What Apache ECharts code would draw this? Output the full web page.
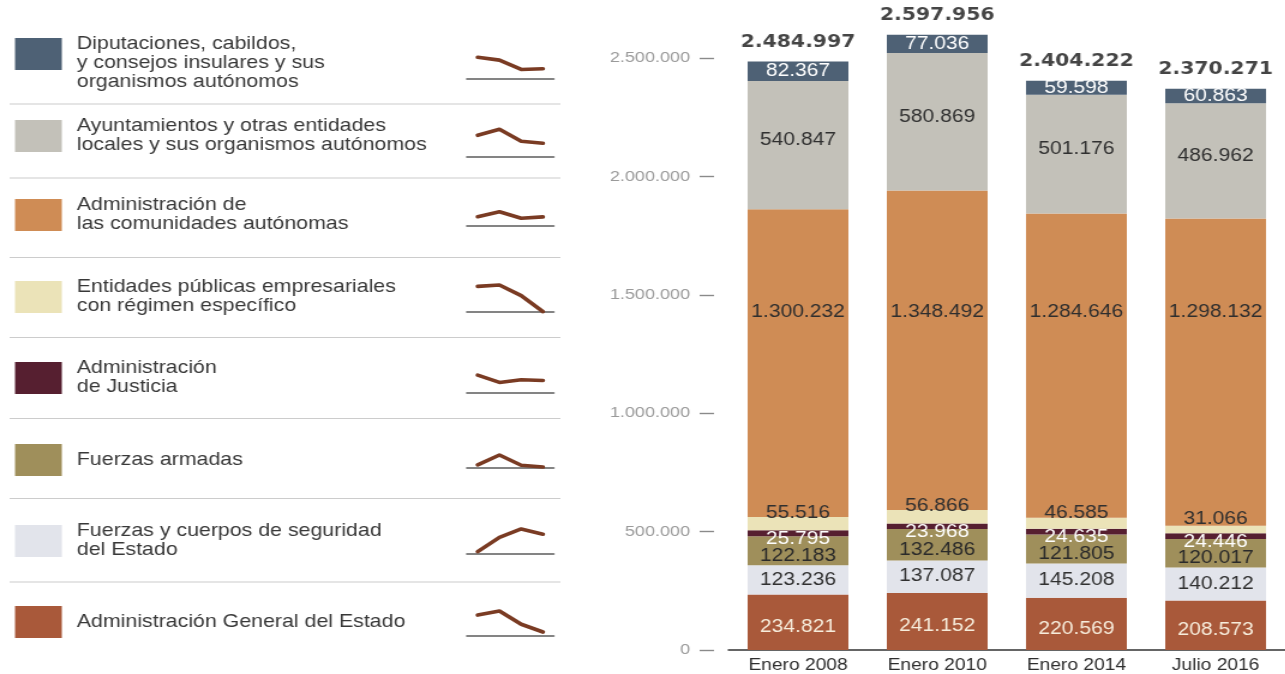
<!DOCTYPE html>
<html lang="es">
<head>
<meta charset="utf-8">
<title>Empleados públicos por administración</title>
<script src="https://cdn.jsdelivr.net/npm/echarts@6.0.0/dist/echarts.min.js"></script>
<style>
  html, body { margin: 0; padding: 0; background: #fff; overflow: hidden; }
  /* the layout is drawn on a narrower canvas and widened horizontally */
  #chart { width: 1071px; height: 674px; transform: scaleX(1.2); transform-origin: 0 0; }
</style>
</head>
<body>
<div id="chart"></div>
<script>
// ---- data -------------------------------------------------------------
const categories = ['Enero 2008', 'Enero 2010', 'Enero 2014', 'Julio 2016'];

const diputaciones          = [82367, 77036, 59598, 60863];
const ayuntamientos         = [540847, 580869, 501176, 486962];
const comunidades           = [1300232, 1348492, 1284646, 1298132];
const entidades             = [55516, 56866, 46585, 31066];
const justicia              = [25795, 23968, 24635, 24446];
const fuerzasArmadas        = [122183, 132486, 121805, 120017];
const seguridad             = [123236, 137087, 145208, 140212];
const administracionGeneral = [234821, 241152, 220569, 208573];

const yTickValues = [0, 500000, 1000000, 1500000, 2000000, 2500000];

// ---- helpers ----------------------------------------------------------
const FONT = '"Liberation Sans", Arial, Helvetica, sans-serif';
const fmt = v => String(v).replace(/\B(?=(\d{3})+(?!\d))/g, '.');

// stacked from the bottom up
const layers = [
  { id: 'age',  name: 'Administración General del Estado', data: administracionGeneral, color: '#a9593a', text: '#f7eddc', dy: 5 },
  { id: 'seg',  name: 'Fuerzas y cuerpos de seguridad\ndel Estado', data: seguridad, color: '#e2e4eb', text: '#303030', dy: 0 },
  { id: 'ffaa', name: 'Fuerzas armadas', data: fuerzasArmadas, color: '#9f8f5b', text: '#2a2a2a', dy: 5 },
  { id: 'jus',  name: 'Administración\nde Justicia', data: justicia, color: '#561f30', text: '#ffffff', dy: 6 },
  { id: 'ent',  name: 'Entidades públicas empresariales\ncon régimen específico', data: entidades, color: '#ebe3b8', text: '#303030', dy: -10 },
  { id: 'ccaa', name: 'Administración de\nlas comunidades autónomas', data: comunidades, color: '#cf8c55', text: '#2e2e2e', dy: 0 },
  { id: 'ayto', name: 'Ayuntamientos y otras entidades\nlocales y sus organismos autónomos', data: ayuntamientos, color: '#c3c1b9', text: '#303030', dy: -5 },
  { id: 'dip',  name: 'Diputaciones, cabildos,\ny consejos insulares y sus\norganismos autónomos', data: diputaciones, color: '#4e6175', text: '#ffffff', dy: 0 }
];

const totals = categories.map((_, i) => layers.reduce((s, l) => s + l.data[i], 0));

// level where the regional-administration figures are written
const ccaaLabelLevel = 1427000;

// ---- legend panel geometry (top row first) ------------------------------
const rows = layers.slice().reverse();
const swatchCenters = [54, 136, 215, 297, 378, 460, 541, 622];
const sparkBaselines = [78.3, 156.7, 226, 311.7, 392.7, 467.3, 554, 636];
const separators = [104, 178, 257.5, 337.5, 418.5, 498.5, 582];
// vertical extent of each small trend line
const sparkMin = [43000, 397000, 1210000, 31000, 21400, 119700, 121000, 202400];
const sparkMax = [95400, 585000, 1481000, 58100, 28400, 148900, 148100, 245800];
const SPARK_H = 28;

// ---- option -------------------------------------------------------------
const grids = [{ left: 607, right: 0, top: 58, bottom: 24 }];
const xAxes = [{
  type: 'category', gridIndex: 0, data: categories,
  axisLine: { lineStyle: { color: '#333', width: 1.5 } },
  axisTick: { show: false },
  axisLabel: { color: '#2e2e2e', fontSize: 16, fontFamily: FONT, margin: 8 }
}];
const yAxes = [{
  type: 'value', gridIndex: 0, min: yTickValues[0], max: yTickValues[yTickValues.length - 1],
  interval: yTickValues[1] - yTickValues[0], offset: 12,
  axisLine: { show: false },
  axisTick: { show: true, length: 12, lineStyle: { color: '#8a8a8a', width: 1.4 } },
  axisLabel: { color: '#9a9a9a', fontSize: 15, fontFamily: FONT, margin: 20, formatter: v => fmt(v) },
  splitLine: { show: false }
}];

const series = layers.map(l => ({
  id: l.id, name: l.name, type: 'bar', stack: 'total', barWidth: 84, clip: false,
  xAxisIndex: 0, yAxisIndex: 0, silent: true,
  itemStyle: { color: l.color },
  label: {
    show: true, position: 'inside', offset: [0, l.dy],
    color: l.text, fontSize: 17.5, fontFamily: FONT,
    formatter: p => fmt(p.value)
  },
  data: l.data.slice()
}));

// totals above each column
series.push({
  id: 'totals', type: 'scatter', xAxisIndex: 0, yAxisIndex: 0, clip: false, silent: true,
  symbolSize: 1, itemStyle: { color: 'rgba(0,0,0,0)' },
  label: {
    show: true, position: 'top', distance: 10,
    color: '#161616', fontSize: 17, fontWeight: 'bold', fontFamily: '"DejaVu Sans", sans-serif',
    formatter: p => fmt(p.value[1])
  },
  data: totals.map((t, i) => [i, t])
});

// small trend lines in the legend panel
rows.forEach((r, k) => {
  const gi = k + 1;
  grids.push({ left: 389, width: 72.5, top: sparkBaselines[k] - SPARK_H, height: SPARK_H });
  xAxes.push({
    type: 'category', gridIndex: gi, data: categories, boundaryGap: true,
    axisLine: { show: true, lineStyle: { color: '#5c5c5c', width: 1.6 } },
    axisTick: { show: false }, axisLabel: { show: false }, splitLine: { show: false }
  });
  yAxes.push({
    type: 'value', gridIndex: gi, min: sparkMin[k], max: sparkMax[k], show: false
  });
  series.push({
    id: 'spark-' + r.id, type: 'line', xAxisIndex: gi, yAxisIndex: gi, silent: true,
    symbol: 'none', clip: false, z: 5,
    lineStyle: { color: '#7a3b23', width: 3.6, cap: 'round', join: 'round' },
    data: r.data.slice()
  });
});

// swatches, names and rules of the legend panel
const graphics = [];
rows.forEach((r, k) => {
  const c = swatchCenters[k];
  const lines = r.name.split('\n').length;
  graphics.push({
    type: 'rect', silent: true,
    shape: { x: 12.5, y: c - 16, width: 39, height: 32 },
    style: { fill: r.color }
  });
  graphics.push({
    type: 'text', silent: true,
    style: {
      text: r.name, x: 64, y: lines > 1 ? c - 19 : c - 9.5,
      fill: '#383838', fontSize: 17.8, fontFamily: FONT,
      lineHeight: 19, verticalAlign: 'top', align: 'left'
    }
  });
});
separators.forEach(y => {
  graphics.push({
    type: 'line', silent: true,
    shape: { x1: 8, y1: y, x2: 467, y2: y },
    style: { stroke: '#cccccc', lineWidth: 1.2 }
  });
});

const option = {
  backgroundColor: '#ffffff',
  animation: false,
  grid: grids,
  xAxis: xAxes,
  yAxis: yAxes,
  series: series,
  graphic: graphics
};

const chart = echarts.init(document.getElementById('chart'), null, { renderer: 'canvas' });
chart.setOption(option);

// write the regional-administration figures on one common level
const ccaaIndex = layers.findIndex(l => l.id === 'ccaa');
const below = categories.map((_, i) => layers.slice(0, ccaaIndex).reduce((s, l) => s + l.data[i], 0));
const levelPx = chart.convertToPixel({ yAxisIndex: 0 }, ccaaLabelLevel);
chart.setOption({
  series: [{
    id: 'ccaa',
    data: comunidades.map((v, i) => {
      const midPx = chart.convertToPixel({ yAxisIndex: 0 }, below[i] + v / 2);
      return { value: v, label: { offset: [0, levelPx - midPx] } };
    })
  }]
});
</script>
</body>
</html>
